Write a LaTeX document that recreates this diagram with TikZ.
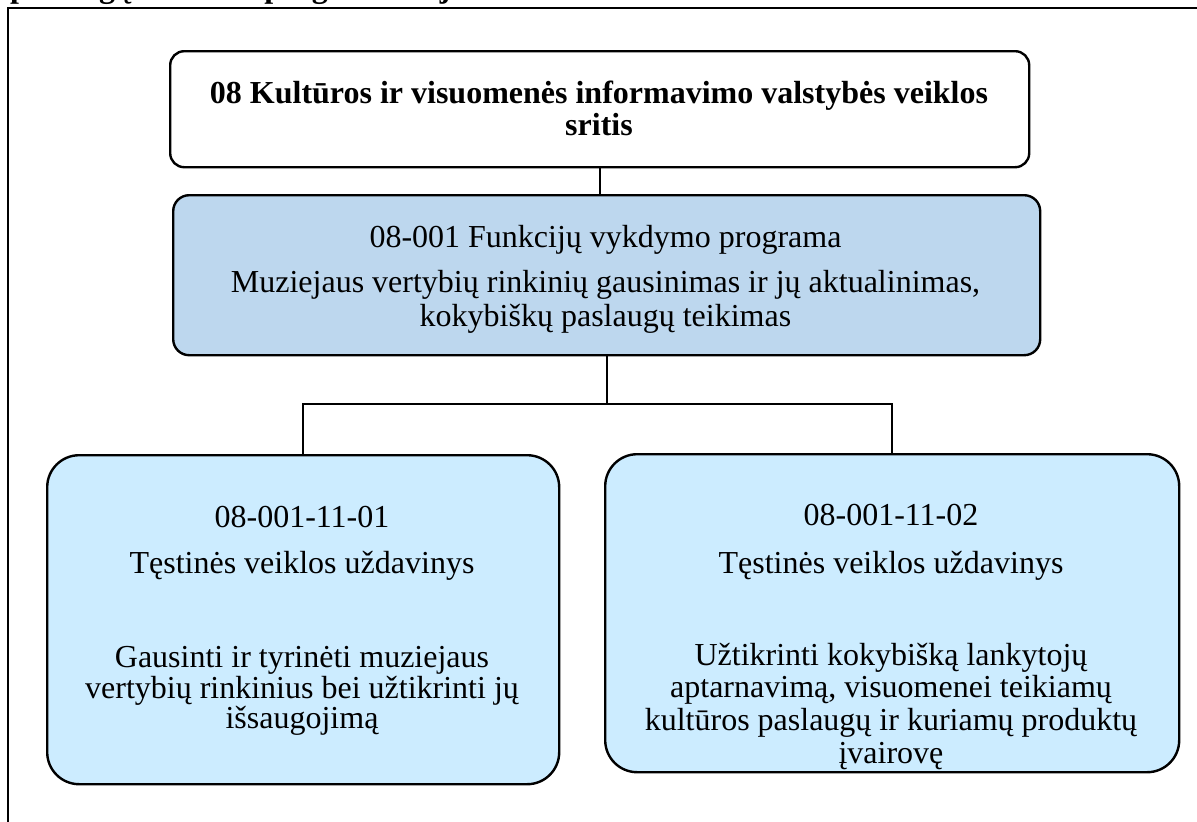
\documentclass[tikz,border=0pt]{standalone}
\usepackage{fontspec}
\setmainfont{Liberation Serif}
\definecolor{midblue}{HTML}{BDD7EE}
\definecolor{lightblue}{HTML}{CCECFF}
\begin{document}
\begin{tikzpicture}[x=1pt,y=-1pt,
  box/.style={draw=black, line width=2.4pt, anchor=north west, inner sep=0pt},
  txt/.style={anchor=base, inner sep=0pt, font=\fontsize{32}{36}\selectfont},
  btxt/.style={anchor=base, inner sep=0pt, font=\fontsize{32}{36}\selectfont\bfseries},
  conn/.style={draw=black, line width=2.2pt}]
\useasboundingbox (0,0) rectangle (1197,822);
\begin{scope}
\clip (0,0) rectangle (1197,822);
\node[btxt, anchor=base west] (head) at (10,-3) {paslaugų teikimas programa ir jos uždaviniai};
\end{scope}
\draw[line width=2pt] (7.5,822) -- (7.5,7.5) -- (1197,7.5);
% boxes
\node[box, rounded corners=14pt, fill=white, minimum width=859pt, minimum height=116pt] (top) at (169,50) {};
\node[box, rounded corners=16pt, fill=midblue, minimum width=867pt, minimum height=160pt] (mid) at (172,194) {};
\node[box, rounded corners=32pt, fill=lightblue, minimum width=512pt, minimum height=329pt] (left) at (46,454) {};
\node[box, rounded corners=32pt, fill=lightblue, minimum width=574pt, minimum height=318pt] (right) at (604,453) {};
% connectors
\coordinate (branch) at (605.5,404);
\draw[conn] (top.south) -- (top.south |- mid.north);
\draw[conn] (mid.south) -- (mid.south |- branch);
\draw[conn] (left.north) |- (mid.south |- branch) -| (right.north);
% texts
\node[btxt] (t1a) at (599,103) {08 Kultūros ir visuomenės informavimo valstybės veiklos};
\node[btxt] (t1b) at (599,135) {sritis};
\node[txt] (t2a) at (605.5,247) {08-001 Funkcijų vykdymo programa};
\node[txt] (t2b) at (605.5,292) {Muziejaus vertybių rinkinių gausinimas ir jų aktualinimas,};
\node[txt] (t2c) at (605.5,326) {kokybiškų paslaugų teikimas};
\node[txt] (l1) at (302,527) {08-001-11-01};
\node[txt] (l2) at (302,573) {Tęstinės veiklos uždavinys};
\node[txt] (l3) at (302,667) {Gausinti ir tyrinėti muziejaus};
\node[txt] (l4) at (302,698) {vertybių rinkinius bei užtikrinti jų};
\node[txt] (l5) at (302,728) {išsaugojimą};
\node[txt] (r1) at (891,525) {08-001-11-02};
\node[txt] (r2) at (891,573) {Tęstinės veiklos uždavinys};
\node[txt] (r3) at (891,665) {Užtikrinti kokybišką lankytojų};
\node[txt] (r4) at (891,697) {aptarnavimą, visuomenei teikiamų};
\node[txt] (r5) at (891,730) {kultūros paslaugų ir kuriamų produktų};
\node[txt] (r6) at (891,763) {įvairovę};
\end{tikzpicture}
\end{document}
